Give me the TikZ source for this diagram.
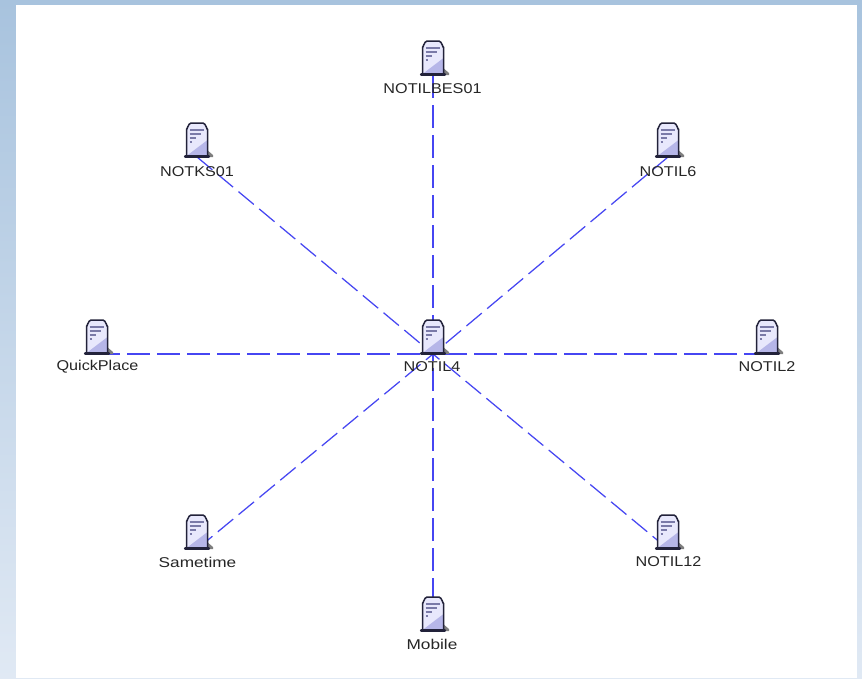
\documentclass[tikz,border=0pt]{standalone}
\usepackage{fontspec}
\usetikzlibrary{calc}
\setmainfont{Liberation Sans}
\definecolor{edgeblue}{HTML}{4646F2}
\definecolor{bgtop}{HTML}{A8C3DE}
\definecolor{bgbot}{HTML}{E0E9F4}
\definecolor{slab}{HTML}{E8E8FC}
\definecolor{slabdark}{HTML}{B6B6E8}
\definecolor{slabline}{HTML}{22223A}
\definecolor{slabtext}{HTML}{7A7AA8}
\definecolor{slabshadow}{HTML}{7E7E7E}
\tikzset{
  x=1pt,y=-1pt,
  straightlink/.style={draw=edgeblue,line width=1.6pt,dash pattern=on 23pt off 7pt},
  diaglink/.style={draw=edgeblue,line width=1.25pt,dash pattern=on 20pt off 7pt},
  srvlabel/.style={font=\fontsize{14.2pt}{16pt}\selectfont,text=black!85,inner sep=0pt,anchor=center,xscale=1.14},
  widelabel/.style={srvlabel,xscale=1.065},
  srvicon/.pic={
    \fill[slabshadow] (9,-7) -- (16,-1) -- (16,1) -- (9,1) -- cycle;
    \fill[slab] (-10.5,0) -- (-10.5,-27) to[out=-90,in=180] (-6,-33) -- (6,-33) to[out=0,in=-90] (10.5,-27) -- (10.5,0) -- cycle;
    \fill[slabdark] (-10.5,0) -- (10.5,-16) -- (10.5,0) -- cycle;
    \draw[slabline,line width=1.5pt,line join=round] (-10.5,0) -- (-10.5,-27) to[out=-90,in=180] (-6,-33) -- (6,-33) to[out=0,in=-90] (10.5,-27) -- (10.5,0);
    \draw[slabline,line width=2.2pt,line cap=round] (-12,0.5) -- (12,0.5);
    \draw[slabtext,line width=1.2pt] (-7.5,-26) -- (7,-26) (-7.5,-22) -- (3.5,-22) (-7.5,-18) -- (-1.5,-18) (-7.5,-14) -- (-5.5,-14);
  }
}
\begin{document}
\begin{tikzpicture}
\useasboundingbox (0,0) rectangle (862,678);
\shade[top color=bgtop,bottom color=bgbot] (0,0) rectangle (862,678);
\fill[white] (16,5) rectangle (857,678);
\coordinate (hub) at (433,354);
\coordinate (bes) at (433,75);
\coordinate (ks) at (197,157);
\coordinate (six) at (668,157);
\coordinate (qp) at (97,354);
\coordinate (two) at (767,354);
\coordinate (st) at (197,549);
\coordinate (twelve) at (668,549);
\coordinate (mob) at (433,631);
\foreach \e in {bes,qp,two,mob} \draw[straightlink] (\e) -- (hub);
\foreach \e in {ks,six,st,twelve} \draw[diaglink] (\e) -- (hub);
\foreach \e in {bes,ks,six,qp,two,st,twelve,mob,hub} \pic at ($(\e)+(0,-1)$) {srvicon};
\node[srvlabel] (bes-label) at (432.5,89) {NOTILBES01};
\node[srvlabel] (ks-label) at (197,172) {NOTKS01};
\node[srvlabel] (six-label) at (668,172) {NOTIL6};
\node[srvlabel] (qp-label) at (97.5,367) {QuickPlace};
\node[srvlabel] (hub-label) at (432,367) {NOTIL4};
\node[srvlabel] (two-label) at (767,367) {NOTIL2};
\node[widelabel] (st-label) at (197.5,562) {Sametime};
\node[srvlabel] (twelve-label) at (668.5,562) {NOTIL12};
\node[widelabel] (mob-label) at (432,644) {Mobile};
\end{tikzpicture}
\end{document}
